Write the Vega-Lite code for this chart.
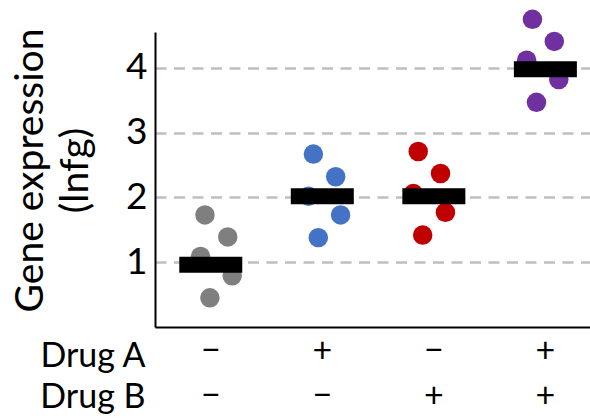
{
  "$schema": "https://vega.github.io/schema/vega-lite/v6.json",
  "width": 435,
  "height": 295,
  "autosize": {"type": "none"},
  "padding": {"left": 155, "top": 32, "right": 0, "bottom": 93},
  "background": "white",
  "config": {
    "view": {"stroke": null},
    "font": "Lato"
  },
  "datasets": {
    "samples": [
      {"treatment": "−|−", "jitter": -0.13, "expression": 1.73},
      {"treatment": "−|−", "jitter": 0.38, "expression": 1.39},
      {"treatment": "−|−", "jitter": -0.23, "expression": 1.09},
      {"treatment": "−|−", "jitter": 0.48, "expression": 0.79},
      {"treatment": "−|−", "jitter": -0.02, "expression": 0.45},
      {"treatment": "+|−", "jitter": -0.2, "expression": 2.67},
      {"treatment": "+|−", "jitter": 0.3, "expression": 2.32},
      {"treatment": "+|−", "jitter": -0.31, "expression": 2.02},
      {"treatment": "+|−", "jitter": 0.41, "expression": 1.73},
      {"treatment": "+|−", "jitter": -0.09, "expression": 1.38},
      {"treatment": "−|+", "jitter": -0.35, "expression": 2.71},
      {"treatment": "−|+", "jitter": 0.15, "expression": 2.37},
      {"treatment": "−|+", "jitter": -0.46, "expression": 2.06},
      {"treatment": "−|+", "jitter": 0.26, "expression": 1.77},
      {"treatment": "−|+", "jitter": -0.25, "expression": 1.42},
      {"treatment": "+|+", "jitter": -0.29, "expression": 4.75},
      {"treatment": "+|+", "jitter": 0.2, "expression": 4.41},
      {"treatment": "+|+", "jitter": -0.42, "expression": 4.12},
      {"treatment": "+|+", "jitter": 0.3, "expression": 3.82},
      {"treatment": "+|+", "jitter": -0.2, "expression": 3.47}
    ],
    "means": [
      {"treatment": "−|−", "expression": 0.96},
      {"treatment": "+|−", "expression": 2.02},
      {"treatment": "−|+", "expression": 2.02},
      {"treatment": "+|+", "expression": 3.98}
    ]
  },
  "encoding": {
    "x": {
      "field": "treatment",
      "type": "nominal",
      "sort": ["−|−", "+|−", "−|+", "+|+"],
      "scale": {"paddingInner": 0.2, "paddingOuter": 0.05, "align": 1},
      "axis": {
        "title": ["Drug A", "Drug B"],
        "titleFontSize": 34,
        "titleFontWeight": "normal",
        "titleColor": "black",
        "titleLineHeight": 40.7,
        "titleAngle": 0,
        "titleAlign": "right",
        "titleBaseline": "alphabetic",
        "titleX": -10,
        "titleY": 39.7,
        "labelExpr": "split(datum.value, '|')",
        "labelFontSize": 34,
        "labelColor": "black",
        "labelLineHeight": 45.7,
        "labelBaseline": "alphabetic",
        "labelPadding": 34,
        "labelAngle": 0,
        "ticks": false,
        "grid": false,
        "domainColor": "black",
        "domainWidth": 2
      }
    },
    "y": {
      "field": "expression",
      "type": "quantitative",
      "scale": {"domain": [0, 4.555], "nice": false, "zero": false},
      "axis": {
        "title": ["Gene expression", "(lnfg)"],
        "titleFontSize": 39,
        "titleFontWeight": "normal",
        "titleColor": "black",
        "titleLineHeight": 45.6,
        "titleAngle": -90,
        "titleAlign": "center",
        "titleBaseline": "alphabetic",
        "titleX": -113,
        "titleY": 138,
        "values": [1, 2, 3, 4],
        "format": "d",
        "labelFontSize": 37,
        "labelColor": "black",
        "labelPadding": 8,
        "labelBaseline": "middle",
        "ticks": false,
        "domainColor": "black",
        "domainWidth": 2,
        "grid": true,
        "gridColor": "#bfbfbf",
        "gridWidth": 2.5,
        "gridDash": [11, 7.5]
      }
    }
  },
  "layer": [
    {
      "data": {"name": "samples"},
      "mark": {"type": "circle", "size": 380, "opacity": 1},
      "encoding": {
        "xOffset": {"field": "jitter", "type": "quantitative", "scale": {"domain": [-1, 1]}},
        "color": {
          "field": "treatment",
          "type": "nominal",
          "scale": {
            "domain": ["−|−", "+|−", "−|+", "+|+"],
            "range": ["#7f7f7f", "#4472c4", "#c00000", "#7030a0"]
          },
          "legend": null
        }
      }
    },
    {
      "data": {"name": "means"},
      "mark": {"type": "tick", "orient": "horizontal", "size": 63, "thickness": 16, "color": "black", "opacity": 1}
    }
  ]
}
